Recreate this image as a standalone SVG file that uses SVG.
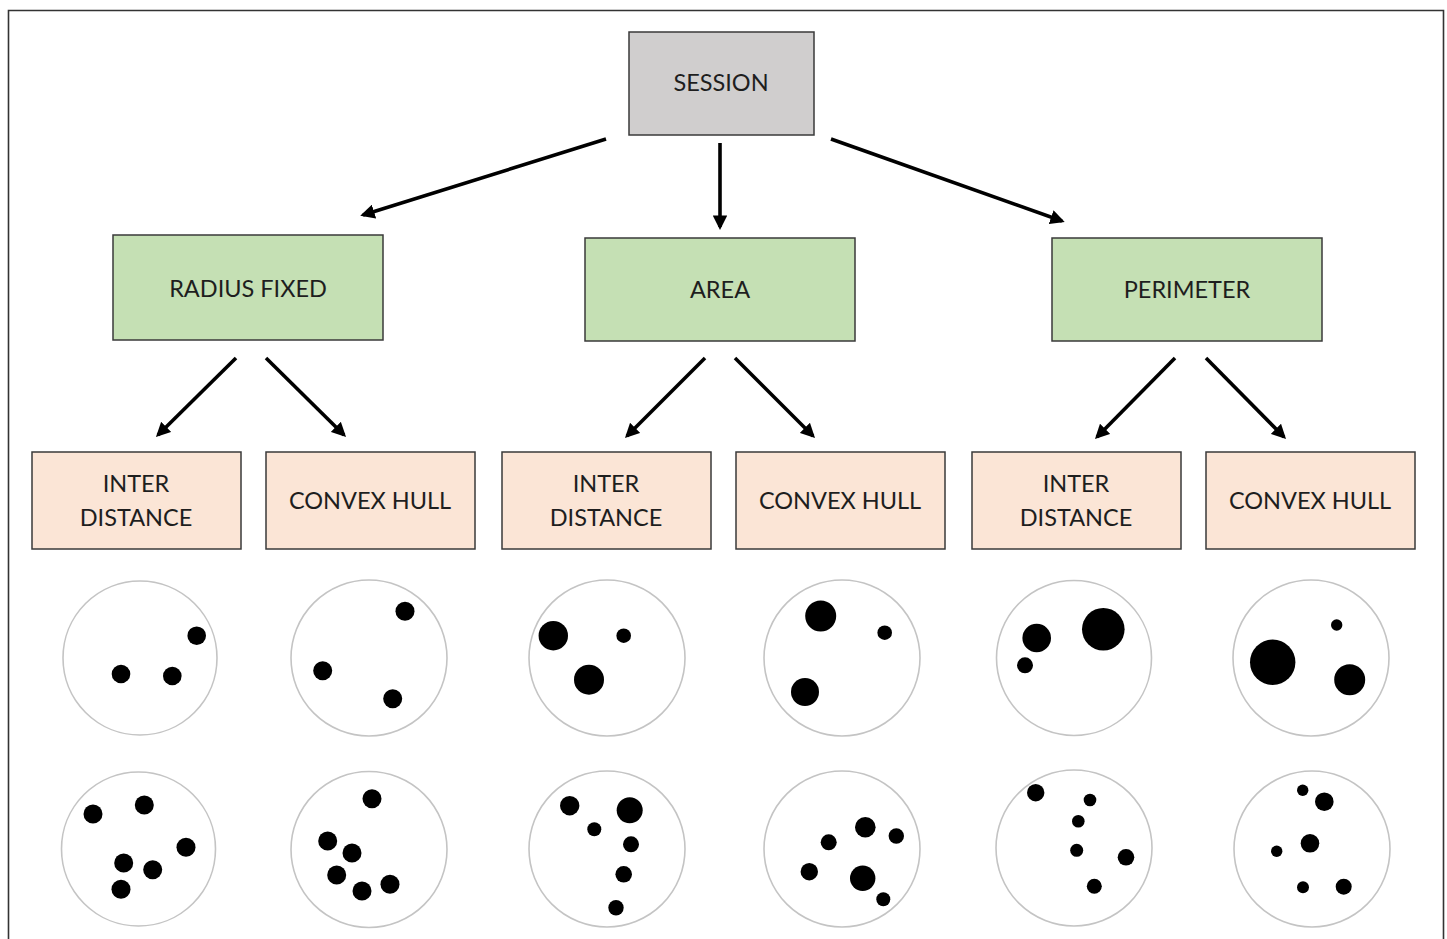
<svg xmlns="http://www.w3.org/2000/svg" width="1447" height="939" viewBox="0 0 1447 939">
<defs>
<marker id="ah" viewBox="0 0 10 10" refX="8" refY="5" markerWidth="4" markerHeight="4" orient="auto" markerUnits="strokeWidth">
<path d="M0,0 L10,5 L0,10 z" fill="#000"/>
</marker>
<style>
.box{stroke:#3a3a3a;stroke-width:1.5}
.g{fill:#d0cece}
.gr{fill:#c5e0b4}
.pk{fill:#fbe5d6}
.t{font-family:Lato,"Liberation Sans",sans-serif;font-size:23.5px;fill:#1e1e1e;text-anchor:middle}
.c{fill:#fff;stroke:#c4c4c4;stroke-width:1.6}
.d{fill:#000}
.a{stroke:#000;stroke-width:3.6;fill:none;marker-end:url(#ah)}
</style>
</defs>
<rect width="1447" height="939" fill="#fff"/>
<path d="M8.5,939 V10.5 H1443.5 V939" fill="none" stroke="#333" stroke-width="1.6"/>

<g id="session"><rect class="box g" x="629" y="32" width="185" height="103"/><text class="t" x="721" y="91">SESSION</text></g>
<g id="radius"><rect class="box gr" x="113" y="235" width="270" height="105"/><text class="t" x="248" y="297">RADIUS FIXED</text></g>
<g id="area"><rect class="box gr" x="585" y="238" width="270" height="103"/><text class="t" x="720" y="298">AREA</text></g>
<g id="perimeter"><rect class="box gr" x="1052" y="238" width="270" height="103"/><text class="t" x="1187" y="298">PERIMETER</text></g>

<g id="rf-inter"><rect class="box pk" x="32" y="452" width="209" height="97"/><text class="t" x="136" y="492">INTER</text><text class="t" x="136" y="526">DISTANCE</text></g>
<g id="rf-convex"><rect class="box pk" x="266" y="452" width="209" height="97"/><text class="t" x="370" y="509">CONVEX HULL</text></g>
<g id="ar-inter"><rect class="box pk" x="502" y="452" width="209" height="97"/><text class="t" x="606" y="492">INTER</text><text class="t" x="606" y="526">DISTANCE</text></g>
<g id="ar-convex"><rect class="box pk" x="736" y="452" width="209" height="97"/><text class="t" x="840" y="509">CONVEX HULL</text></g>
<g id="pe-inter"><rect class="box pk" x="972" y="452" width="209" height="97"/><text class="t" x="1076" y="492">INTER</text><text class="t" x="1076" y="526">DISTANCE</text></g>
<g id="pe-convex"><rect class="box pk" x="1206" y="452" width="209" height="97"/><text class="t" x="1310" y="509">CONVEX HULL</text></g>

<g id="connectors">
<line class="a" x1="606" y1="139" x2="363" y2="215"/>
<line class="a" x1="720" y1="143" x2="720" y2="227"/>
<line class="a" x1="831" y1="139" x2="1062" y2="221"/>
<line class="a" x1="236" y1="358" x2="158" y2="435"/>
<line class="a" x1="266" y1="358" x2="344" y2="435"/>
<line class="a" x1="705" y1="358" x2="627" y2="436"/>
<line class="a" x1="735" y1="358" x2="813" y2="436"/>
<line class="a" x1="1175" y1="358" x2="1097" y2="437"/>
<line class="a" x1="1206" y1="358" x2="1284" y2="437"/>
</g>

<g id="samples-row1">
<circle class="c" cx="140" cy="658" r="77"/>
<circle class="d" cx="196.7" cy="635.7" r="9.3"/><circle class="d" cx="121" cy="674" r="9.3"/><circle class="d" cx="172.3" cy="676" r="9.3"/>
<circle class="c" cx="369" cy="658" r="78"/>
<circle class="d" cx="405" cy="611.3" r="9.5"/><circle class="d" cx="322.7" cy="670.7" r="9.5"/><circle class="d" cx="392.7" cy="698.7" r="9.5"/>
<circle class="c" cx="607" cy="658" r="78"/>
<circle class="d" cx="553.3" cy="635.7" r="14.7"/><circle class="d" cx="623.7" cy="635.7" r="7.3"/><circle class="d" cx="589" cy="679.7" r="15"/>
<circle class="c" cx="842" cy="658" r="78"/>
<circle class="d" cx="820.7" cy="616" r="15.5"/><circle class="d" cx="884.7" cy="632.7" r="7.3"/><circle class="d" cx="805" cy="692" r="14"/>
<circle class="c" cx="1074" cy="658" r="77.5"/>
<circle class="d" cx="1036.7" cy="638" r="14.3"/><circle class="d" cx="1103.3" cy="629.3" r="21.3"/><circle class="d" cx="1025" cy="665.3" r="8"/>
<circle class="c" cx="1311" cy="658" r="78"/>
<circle class="d" cx="1272.7" cy="662.3" r="22.7"/><circle class="d" cx="1349.7" cy="679.7" r="15.5"/><circle class="d" cx="1336.7" cy="625" r="5.7"/>
</g>

<g id="samples-row2">
<circle class="c" cx="138.5" cy="849" r="77"/>
<circle class="d" cx="93" cy="814" r="9.5"/><circle class="d" cx="144.3" cy="805" r="9.5"/><circle class="d" cx="186" cy="847.3" r="9.5"/><circle class="d" cx="123.7" cy="863" r="9.5"/><circle class="d" cx="152.7" cy="869.7" r="9.5"/><circle class="d" cx="121" cy="889.3" r="9.5"/>
<circle class="c" cx="369" cy="849.5" r="78"/>
<circle class="d" cx="372" cy="798.7" r="9.5"/><circle class="d" cx="327.7" cy="841" r="9.5"/><circle class="d" cx="352" cy="853" r="9.5"/><circle class="d" cx="336.7" cy="875" r="9.5"/><circle class="d" cx="362" cy="891" r="9.5"/><circle class="d" cx="390" cy="884.3" r="9.5"/>
<circle class="c" cx="607" cy="849" r="78"/>
<circle class="d" cx="569.7" cy="805.7" r="9.7"/><circle class="d" cx="629.7" cy="810.3" r="13"/><circle class="d" cx="594.3" cy="829.3" r="7"/><circle class="d" cx="631" cy="844.3" r="8"/><circle class="d" cx="623.7" cy="874.3" r="8.3"/><circle class="d" cx="616" cy="907.7" r="7.7"/>
<circle class="c" cx="842" cy="849" r="78"/>
<circle class="d" cx="865.3" cy="827.3" r="10.3"/><circle class="d" cx="896.3" cy="836" r="7.7"/><circle class="d" cx="828.7" cy="842.3" r="8"/><circle class="d" cx="809.3" cy="871.7" r="8.7"/><circle class="d" cx="862.7" cy="878.3" r="12.7"/><circle class="d" cx="883.3" cy="899.3" r="7"/>
<circle class="c" cx="1074" cy="848" r="78"/>
<circle class="d" cx="1035.7" cy="792.7" r="8.7"/><circle class="d" cx="1090" cy="800" r="6.3"/><circle class="d" cx="1078.3" cy="821.3" r="6.3"/><circle class="d" cx="1076.7" cy="850.3" r="6.5"/><circle class="d" cx="1126" cy="857.3" r="8.3"/><circle class="d" cx="1094.3" cy="886.3" r="7.5"/>
<circle class="c" cx="1312" cy="849" r="78"/>
<circle class="d" cx="1302.7" cy="790.3" r="5.7"/><circle class="d" cx="1324.3" cy="801.7" r="9.3"/><circle class="d" cx="1310" cy="843.3" r="9.3"/><circle class="d" cx="1276.7" cy="851.3" r="5.7"/><circle class="d" cx="1303" cy="887.3" r="6"/><circle class="d" cx="1343.7" cy="886.7" r="8"/>
</g>
</svg>
